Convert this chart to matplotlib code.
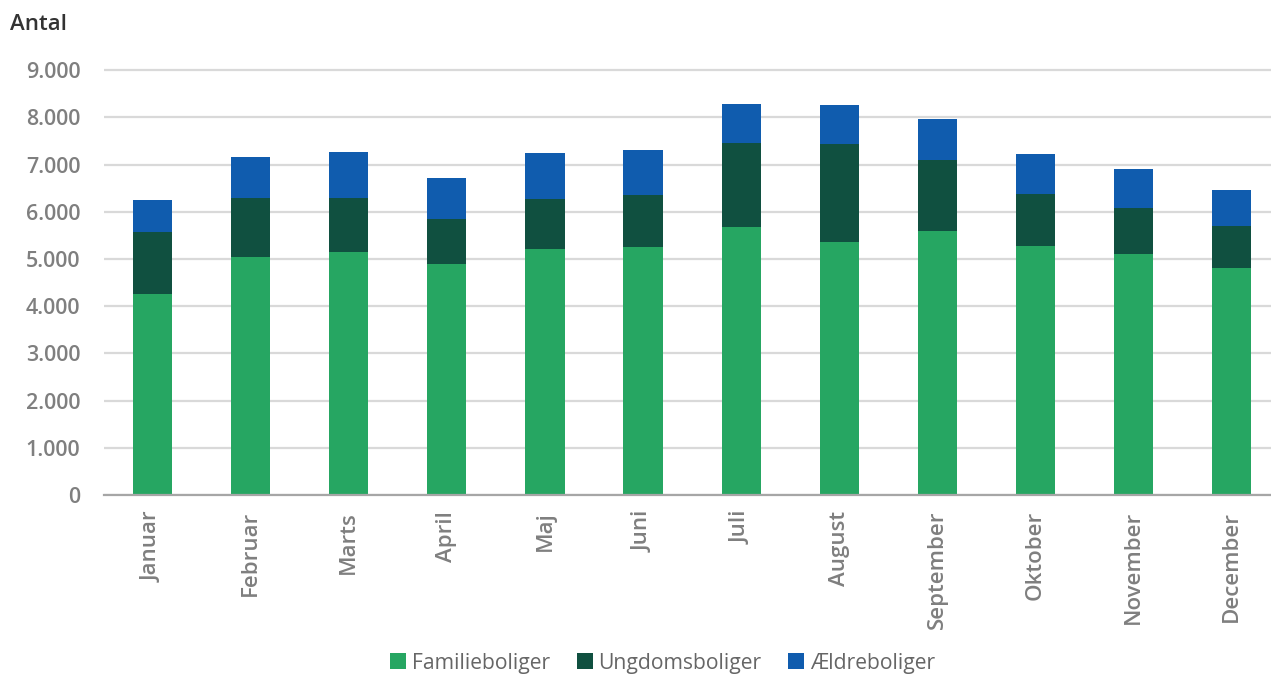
import matplotlib
matplotlib.use("Agg")
import matplotlib.pyplot as plt
from matplotlib.lines import Line2D
from matplotlib.ticker import FuncFormatter

months = ["Januar", "Februar", "Marts", "April", "Maj", "Juni", "Juli",
          "August", "September", "Oktober", "November", "December"]
familieboliger = [4258, 5042, 5155, 4894, 5212, 5254, 5678, 5360, 5587, 5275, 5099, 4803]
ungdomsboliger = [1314, 1244, 1144, 947, 1052, 1095, 1780, 2070, 1517, 1108, 988, 903]
aeldreboliger = [678, 875, 974, 868, 988, 967, 819, 840, 862, 835, 813, 749]
series_names = ["Familieboliger", "Ungdomsboliger", "Ældreboliger"]
yticks = [0, 1000, 2000, 3000, 4000, 5000, 6000, 7000, 8000, 9000]

colors = ["#26A662", "#105040", "#105CAE"]

plt.rcParams['font.family'] = ['Open Sans', 'DejaVu Sans']

fig = plt.figure(figsize=(12.71, 6.75), dpi=100)
ax = fig.add_axes([104/1271, 180/675, 1 - 104/1271, (495 - 67.9)/675])

x = list(range(len(months)))
bottom = [0]*len(months)
for vals, col, name in zip([familieboliger, ungdomsboliger, aeldreboliger], colors, series_names):
    ax.bar(x, vals, width=0.4, bottom=bottom, color=col, linewidth=0, zorder=3, label=name)
    bottom = [b + v for b, v in zip(bottom, vals)]

ax.set_xlim(-0.494, 11.4)
ax.set_ylim(0, 9050)
ax.set_yticks(yticks)
ax.yaxis.set_major_formatter(FuncFormatter(lambda v, p: f"{int(v):,}".replace(",", ".")))
ax.set_xticks(x)
ax.set_xticklabels(months, rotation=90, va='top', ha='center')

ax.grid(axis='y', color='#d9d9d9', linewidth=1.6, zorder=0)
ax.set_axisbelow(True)
for s in ['top', 'right', 'left']:
    ax.spines[s].set_visible(False)
ax.spines['bottom'].set_color('#a6a6a6')
ax.spines['bottom'].set_linewidth(1.6)
ax.spines['bottom'].set_zorder(4)

ax.tick_params(axis='y', length=0, labelsize=15.5, labelcolor='#7f7f7f', pad=17)
ax.tick_params(axis='x', length=0, labelsize=16, labelcolor='#7f7f7f', pad=11.5)
for lab in ax.get_yticklabels() + ax.get_xticklabels():
    lab.set_fontweight('semibold')

fig.text(10/1271, 1 - 25/675, "Antal", fontsize=16, fontweight='semibold', color='#333333',
         ha='left', va='center')

handles = [Line2D([0], [0], marker='s', linestyle='none', markersize=11,
                  markerfacecolor=c, markeredgewidth=0) for c in colors]
fig.legend(handles, series_names, loc='center', bbox_to_anchor=(663/1271, 1 - 663/675),
           ncol=3, frameon=False, fontsize=15.2, labelcolor='#666666',
           handlelength=0.7, handletextpad=0.3, columnspacing=1.3, borderaxespad=0)

fig.savefig("out.png", dpi=100)
